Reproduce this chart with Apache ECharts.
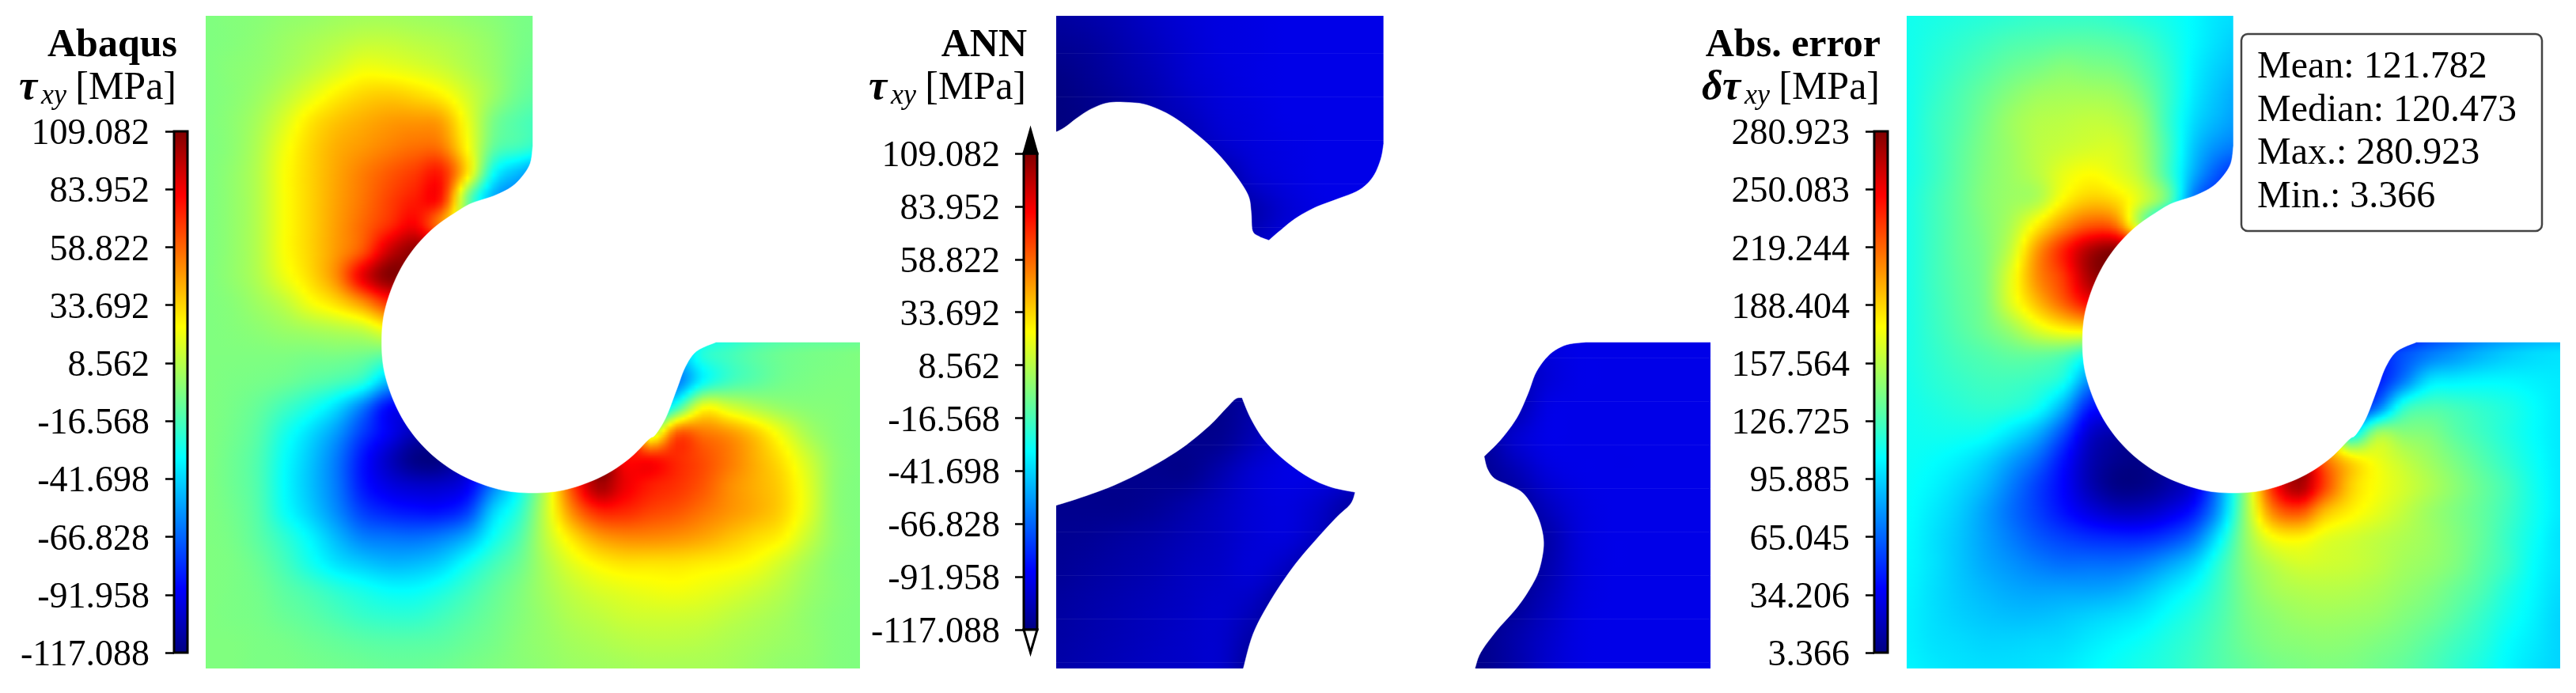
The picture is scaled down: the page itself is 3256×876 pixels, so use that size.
<!DOCTYPE html>
<html><head><meta charset="utf-8">
<style>html,body{margin:0;padding:0;background:#fff}#c{width:3256px;height:876px}</style>
<script src="https://cdn.jsdelivr.net/npm/echarts@6/dist/echarts.min.js"></script>
</head><body><div id="c"></div>
<script>
const _ = null;
const abaqusTicks = [109.082,83.952,58.822,33.692,8.562,-16.568,-41.698,-66.828,-91.958,-117.088];
const errorTicks = [280.923,250.083,219.244,188.404,157.564,126.725,95.885,65.045,34.206,3.366];
const statsLines = ['Mean: 121.782','Median: 120.473','Max.: 280.923','Min.: 3.366'];
// rows run from y=100 (top) to y=0, columns from x=0 to x=100, plate coordinates
const abaqusField = [
[-4,-3,-2,0,1,3,4,4,3,2,0,-2,-5,-6],
[-4,-3,-1,2,5,8,11,11,9,7,4,0,-5,-7],
[-4,-2,0,4,9,15,21,20,17,13,7,1,-6,-9],
[-4,-2,2,9,18,27,33,35,32,26,14,2,-8,-12],
[-4,-1,5,16,29,37,42,46,47,44,20,-5,-14,-18],
[-4,-1,7,21,33,42,47,52,56,54,24,-10,-18,-25],
[-4,0,8,23,34,44,53,61,68,74,30,-30,-48,-60],
[-4,0,8,23,34,45,55,66,75,75,-5,-50,-60,-65],
[-4,0,8,23,34,46,58,71,82,50,10,-40],
[-4,0,8,23,34,47,63,92,105,100],
[-4,0,7,20,32,50,85,107,100],
[-4,-2,3,10,22,32,48,70,70],
[-4,-3,-1,2,5,8,12,24,25,_,_,_,_,_,_,_,_,_,-45,-25,-18,-12,-8,-6,-5,-4],
[-4,-4,-4,-4,-5,-5,-7,-12,-14,_,_,_,_,_,_,_,_,_,-45,-25,-18,-12,-8,-6,-5,-4],
[-4,-5,-6,-8,-12,-16,-24,-48,-50,_,_,_,_,_,_,_,_,-70,-62,-32,-18,-12,-7,-5,-4,-4],
[-4,-6,-10,-18,-27,-40,-62,-88,-90,_,_,_,_,_,_,_,_,-60,-20,22,15,7,1,-2,-3,-4],
[-4,-7,-13,-27,-40,-55,-76,-92,-105,-105,_,_,_,_,_,_,60,10,60,55,48,36,20,5,-2,-4],
[-4,-8,-15,-31,-45,-62,-85,-102,-115,-115,-100,-70,-30,10,65,90,80,78,72,64,54,42,30,14,0,-4],
[-4,-8,-15,-32,-46,-62,-84,-95,-100,-100,-92,-60,-30,10,65,100,85,75,70,62,50,42,34,18,0,-4],
[-4,-7,-14,-30,-43,-58,-75,-82,-85,-85,-75,-42,-22,12,50,72,72,66,62,55,48,42,34,18,0,-4],
[-4,-6,-12,-22,-34,-48,-60,-63,-64,-60,-50,-30,-14,10,30,45,50,50,48,44,38,32,26,12,0,-4],
[-4,-5,-9,-17,-28,-38,-44,-48,-47,-42,-30,-18,-8,6,18,26,30,30,30,28,26,22,14,5,-2,-4],
[-4,-5,-7,-12,-17,-23,-28,-32,-32,-27,-19,-11,-4,4,11,16,19,21,22,20,17,13,8,2,-2,-4],
[-4,-5,-6,-9,-12,-16,-20,-22,-22,-18,-13,-8,-3,2,7,10,13,14,14,13,10,7,4,0,-3,-4],
[-4,-4,-5,-6,-8,-10,-12,-13,-13,-12,-9,-6,-2,1,4,6,8,9,9,8,6,4,2,0,-3,-4],
[-4,-4,-5,-5,-6,-7,-8,-9,-9,-8,-6,-4,-2,0,2,3,4,5,5,5,4,2,0,-1,-3,-4]
];
const annField = [
[-110,-108,-105,-101,-98,-96,-95,-94,-94,-94,-94],
[-113,-111,-107,-103,-99,-96,-95,-94,-94,-94,-94],
[-116,-113,-109,-105,-100,-97,-95,-94,-94,-94,-94],
[-117,-115,-112,-107,-103,-98,-96,-94,-94,-94,-94],
[-117,-116,-114,-110,-107,-101,-97,-95,-94,-94,-94],
[-117,-116,-115,-113,-110,-110,-100,-96,-94,-94,-94],
[-117,-116,-115,-114,-113,-112,-107,-99,-95,-94,-94],
[-117,-116,-115,-114,-113,-108,-103,-96,-94,-94,-94],
[-116,-116,-115,-114,-112,-108,-103,-96,-94,-94,-94,-94,-94,-94,-94,-96,-94,-94,-94,-94,-94],
[-116,-116,-115,-114,-112,-108,-103,-96,-94,-94,-94,-94,-94,-94,-94,-96,-94,-94,-94,-94,-94],
[-116,-116,-115,-114,-112,-110,-105,-100,-98,-98,-98,-98,-98,-98,-100,-96,-94,-94,-94,-94,-94],
[-115,-115,-115,-114,-114,-112,-108,-102,-100,-100,-100,-102,-104,-106,-106,-98,-94,-94,-94,-94,-94],
[-115,-115,-115,-114,-114,-114,-108,-102,-100,-100,-100,-102,-104,-106,-106,-95,-94,-94,-94,-94,-94],
[-115,-115,-114,-114,-114,-113,-105,-98,-96,-96,-96,-100,-104,-110,-100,-94,-94,-94,-94,-94,-94],
[-115,-114,-114,-114,-114,-107,-99,-95,-95,-97,-100,-104,-108,-112,-106,-97,-94,-94,-94,-94,-94],
[-114,-114,-114,-112,-108,-103,-98,-96,-100,-108,-108,-110,-112,-112,-112,-103,-96,-94,-94,-94,-94],
[-113,-112,-110,-108,-105,-102,-98,-97,-103,-112,-112,-113,-114,-114,-114,-108,-97,-94,-94,-94,-94],
[-112,-110,-108,-106,-103,-101,-98,-103,-112,-113,-113,-113,-114,-114,-114,-107,-97,-94,-94,-94,-94],
[-110,-108,-106,-104,-102,-100,-103,-112,-113,-113,-113,-113,-114,-114,-112,-104,-96,-94,-94,-94,-94],
[-109,-107,-105,-103,-101,-100,-108,-114,-114,-114,-114,-114,-114,-114,-108,-101,-95,-94,-94,-94,-94],
[-108,-106,-104,-102,-101,-100,-112,-115,-115,-115,-115,-115,-115,-114,-108,-100,-95,-94,-94,-94,-94]
];
const errorField = [
[112,114,116,118,120,122,122,122,120,116,112,106,100,98],
[112,116,120,124,128,130,132,132,130,125,116,106,98,92],
[112,118,124,130,136,140,144,142,140,132,120,104,94,88],
[112,120,128,136,144,150,152,152,150,140,122,102,90,82],
[112,122,130,140,150,156,158,160,158,148,122,98,86,78],
[113,122,132,142,150,158,162,165,165,152,125,92,76,70],
[113,122,133,143,150,158,170,176,170,156,125,85,60,48],
[114,124,134,144,150,155,178,190,185,165,135,70,50,42],
[114,124,134,143,155,180,205,222,215,150,100,60],
[114,124,134,142,162,205,238,268,278,260],
[114,124,133,142,170,208,232,270,280],
[114,123,132,141,168,195,220,245,245],
[114,122,130,138,150,168,180,185,185,_,_,_,_,_,_,_,_,_,50,60,72,80,88,94,98,100],
[114,120,126,130,134,135,130,112,100,_,_,_,_,_,_,_,_,_,50,60,72,80,88,94,98,100],
[113,118,122,125,125,122,112,75,65,_,_,_,_,_,_,_,_,40,45,72,100,104,106,106,104,102],
[112,115,118,120,118,110,85,45,40,_,_,_,_,_,_,_,_,40,70,118,128,125,120,115,108,102],
[111,112,112,110,100,85,58,25,15,12,_,_,_,_,_,_,150,105,150,145,142,132,124,116,108,102],
[110,108,104,96,82,66,42,18,8,6,15,40,90,150,220,245,215,185,172,160,150,140,130,120,110,102],
[109,105,98,88,72,55,38,18,6,6,14,30,80,150,235,270,228,190,175,165,155,145,135,125,112,102],
[108,102,94,82,68,55,42,30,22,22,30,45,85,150,210,225,195,180,170,160,150,142,134,124,112,102],
[107,100,92,82,72,62,55,50,48,48,55,70,105,148,175,180,170,165,160,155,150,143,134,122,110,100],
[106,100,92,84,78,72,68,68,68,72,82,95,120,145,158,165,164,162,158,152,148,142,132,122,108,100],
[105,99,93,88,84,82,82,82,84,90,100,110,125,142,152,156,157,156,153,148,143,136,128,116,106,98],
[104,99,95,92,90,90,92,95,98,102,110,118,128,140,146,150,151,150,148,143,138,131,122,112,104,96],
[104,100,98,96,96,97,98,102,106,110,116,122,130,138,143,145,146,145,142,138,132,125,118,108,102,96],
[105,102,100,99,99,100,102,106,110,114,118,124,130,135,139,141,142,141,138,134,128,121,114,106,100,96]
];
// outline of the removed region, plate coordinates; a third item marks a sharp corner
const plateVoid = [[50,100,1],[50,80.1,1],[49.6,77.4],[48.3,75.3],[46.6,73.7],[44,72.4],[40.7,71.3],[38.4,70],[35.1,67.7],[32.3,64.9],[30,61.6],[28.3,57.9],[27.2,54],[26.9,50],[27.2,46],[28.3,42.1],[30,38.4],[32.3,35.1],[35.1,32.3],[38.4,30],[42.1,28.3],[46,27.2],[50,26.9],[54,27.2],[57.9,28.3],[61.6,30],[64.9,32.3],[67.7,35.1],[68.7,35.8],[70.3,38.4],[72,42.8],[73.3,46.2],[75,48.6],[78,50,1],[100,50,1],[100,100,1]];
const annVoid = [[0,82.2,1],[1.3,82.9],[3.4,84.5],[5.5,85.8],[8.1,86.7],[11.5,86.7],[14,86.3],[17.4,84.8],[20.8,82.4],[24.2,79.4],[27.1,76],[29.3,72.6],[29.8,69.9],[30,67.1],[31,66.2],[32.5,65.6,1],[34,66.9],[36.5,68.9],[39.5,70.6],[42.9,71.9],[46.3,73.3],[48.4,75.3],[49.6,78],[50.05,80.4,1],[50.05,100,1],[100,100,1],[100,50,1],[81,50,1],[78,49.6],[75.5,48.2],[73.4,45.5],[72.1,42.1],[70.4,38.4],[67.9,35],[65.4,32.5,1],[65.9,30.6],[67,29.1],[69.1,28.1],[71.3,26.9],[73,24.5],[74.1,21.8],[74.5,18.8],[73.8,15.1],[72.5,12.4],[70.4,9.3],[67.4,5.9],[64.9,2.5],[64,0,1],[28.6,0,1],[30.1,5.3],[32.7,10.3],[36.1,15.4],[39.5,19.5],[42.9,23.2],[45,25.2],[45.7,27,1],[42,27.8],[38.6,29.3],[34.8,32],[31.8,35],[29.7,38.4],[28.4,41.5,1],[27.4,41.3],[25.9,39.8],[23.3,37.1],[19.1,33.7],[14,30.6],[8.9,28.1],[3.8,26.2],[0,25,1]];

const FONT = 'Liberation Serif';
const jetStops = [[0,[0,0,127]],[.125,[0,0,255]],[.375,[0,255,255]],[.625,[255,255,0]],[.875,[255,0,0]],[1,[127,0,0]]];
function jet(t){
  t = Math.max(0,Math.min(1,t));
  for(let i=1;i<jetStops.length;i++){
    if(t<=jetStops[i][0]){
      const a=jetStops[i-1],b=jetStops[i],k=(t-a[0])/(b[0]-a[0]);
      return 'rgb('+a[1].map((v,j)=>Math.round(v+(b[1][j]-v)*k)).join(',')+')';
    }
  }
  return 'rgb(127,0,0)';
}
const cr=(a,b,c,d,t)=>0.5*(2*b+(c-a)*t+(2*a-5*b+4*c-d)*t*t+(3*b-a-3*c+d)*t*t*t);
function complete(rows){
  const n=Math.max(...rows.map(r=>r.length));
  return rows.map(r=>{const o=[];let last=r[0];for(let i=0;i<n;i++){const v=r[i];if(v!=null)last=v;o.push(last);}return o;});
}
function fieldSeries(idx,field,lo,hi){
  const rows=complete(field),nr=rows.length,nc=rows[0].length;
  const data=[];
  for(let r=0;r<nr-1;r++)data.push([0,100-r*100/(nr-1),100-(r+1)*100/(nr-1),r]);
  return {type:'custom',xAxisIndex:idx,yAxisIndex:idx,silent:true,clip:true,z:1,data,
    encode:{x:0,y:1},
    renderItem(p,api){
      const r=api.value(3);
      const p0=api.coord([0,api.value(1)]),p1=api.coord([100,api.value(2)]);
      const n=Math.max(1,Math.ceil((p1[1]-p0[1])/2)),h=(p1[1]-p0[1])/n;
      const R=i=>rows[Math.max(0,Math.min(nr-1,i))];
      const children=[];
      for(let j=0;j<n;j++){
        const s=(j+.5)/n,col=[];
        for(let c=0;c<nc;c++)col.push(cr(R(r-1)[c],R(r)[c],R(r+1)[c],R(r+2)[c],s));
        const stops=[];
        for(let c=0;c<nc-1;c++){
          const a=col[Math.max(0,c-1)],b=col[c],d=col[c+1],e=col[Math.min(nc-1,c+2)];
          for(let q=0;q<4;q++){
            const v=cr(a,b,d,e,q/4);
            stops.push({offset:(c+q/4)/(nc-1),color:jet((v-lo)/(hi-lo))});
          }
        }
        stops.push({offset:1,color:jet((col[nc-1]-lo)/(hi-lo))});
        children.push({type:'rect',shape:{x:p0[0],y:p0[1]+j*h,width:p1[0]-p0[0],height:h+.7},
          style:{fill:new echarts.graphic.LinearGradient(0,0,1,0,stops)}});
      }
      return {type:'group',children};
    }};
}
function roundOutline(pts){
  const out=[],n=pts.length;
  for(let i=0;i<n;i++){
    const p1=pts[i],p2=pts[(i+1)%n];
    const p0=p1[2]?p1:pts[(i-1+n)%n],p3=p2[2]?p2:pts[(i+2)%n];
    out.push(p1);
    if(!(p1[2]&&p2[2])){
      for(let q=1;q<6;q++){
        const t=q/6;
        out.push([cr(p0[0],p1[0],p2[0],p3[0],t),cr(p0[1],p1[1],p2[1],p3[1],t)]);
      }
    }
  }
  return out;
}
function voidSeries(idx,outline){
  const shape=roundOutline(outline);
  return {type:'custom',xAxisIndex:idx,yAxisIndex:idx,silent:true,clip:false,z:2,data:[[0,0]],encode:{x:0,y:1},
    renderItem(p,api){
      return {type:'polygon',shape:{points:shape.map(q=>api.coord([q[0],q[1]]))},style:{fill:'#fff',stroke:'#fff',lineWidth:.5}};
    }};
}
function barSeries(idx,lo,hi,arrows){
  const gstops=jetStops.map(s=>({offset:1-s[0],color:'rgb('+s[1].join(',')+')'})).reverse();
  return {type:'custom',xAxisIndex:idx,yAxisIndex:idx,silent:true,clip:false,z:3,data:[[0,lo,hi]],encode:{x:0,y:1},
    renderItem(p,api){
      const a=api.coord([0,hi]),b=api.coord([1,lo]);
      const ch=[{type:'rect',shape:{x:a[0],y:a[1],width:b[0]-a[0],height:b[1]-a[1]},
        style:{fill:new echarts.graphic.LinearGradient(0,0,0,1,gstops),stroke:'#000',lineWidth:3}}];
      if(arrows){
        const mx=(a[0]+b[0])/2;
        ch.push({type:'polygon',shape:{points:[[a[0],a[1]],[mx,a[1]-30],[b[0],a[1]]]},style:{fill:'#000',stroke:'#000',lineWidth:3,lineJoin:'miter'}});
        ch.push({type:'polygon',shape:{points:[[a[0],b[1]],[mx,b[1]+29],[b[0],b[1]]]},style:{fill:'#fff',stroke:'#000',lineWidth:3}});
      }
      return {type:'group',children:ch};
    }};
}
const fieldGrids=[[260,20,827,825],[1335,20,827,825],[2410,20,826,825]];
const barGrids=[[220,166,17,659],[1294,194,17,602],[2369,166,17,659]];
const labelMargin=[31,30,31];
const ranges=[[-117.088,109.082,abaqusTicks],[-117.088,109.082,abaqusTicks],[3.366,280.923,errorTicks]];
const grid=[],xAxis=[],yAxis=[],series=[];
fieldGrids.forEach(g=>{
  grid.push({left:g[0],top:g[1],width:g[2],height:g[3]});
  const i=xAxis.length;
  xAxis.push({type:'value',gridIndex:i,min:0,max:100,show:false});
  yAxis.push({type:'value',gridIndex:i,min:0,max:100,show:false});
});
barGrids.forEach((g,k)=>{
  grid.push({left:g[0],top:g[1],width:g[2],height:g[3]});
  const i=xAxis.length,[lo,hi,tk]=ranges[k];
  xAxis.push({type:'value',gridIndex:i,min:0,max:1,show:false});
  yAxis.push({type:'value',gridIndex:i,min:lo,max:hi,position:'left',splitLine:{show:false},
    axisLine:{show:false},
    axisTick:{show:true,length:11,customValues:tk,lineStyle:{color:'#000',width:2.5}},
    axisLabel:{show:true,customValues:tk,margin:labelMargin[k],hideOverlap:false,
      formatter:v=>'{a|'+v.toFixed(3)+'}',
      rich:{a:{color:'#000',fontFamily:FONT,fontSize:46,padding:[8,0,0,0]}}}});
});
series.push(fieldSeries(0,abaqusField,-117.088,109.082),voidSeries(0,plateVoid));
series.push(fieldSeries(1,annField,-117.088,109.082),voidSeries(1,annVoid));
series.push(fieldSeries(2,errorField,3.366,280.923),voidSeries(2,plateVoid));
series.push(barSeries(3,-117.088,109.082,false),barSeries(4,-117.088,109.082,true),barSeries(5,3.366,280.923,false));

const T=(text,x,y,o)=>Object.assign({type:'text',x,y,z:10,style:Object.assign({text,fontFamily:FONT,fontSize:47,fill:'#000',align:'right',verticalAlign:'middle'},o||{})},{});
const graphic=[];
[[0,'Abaqus',0],[1074,'ANN',0],[2153,'Abs. error',1]].forEach(([dx,title,delta])=>{
  graphic.push(T(title,224+dx,58,{fontWeight:'bold',fontSize:50}));
  graphic.push(T('[MPa]',223+dx,112,{fontSize:50}));
  graphic.push(T('xy',84+dx,122,{fontStyle:'italic',fontSize:36}));
  graphic.push(T(delta?'δτ':'τ',47+dx,112,{fontStyle:'italic',fontWeight:'bold',fontSize:52}));
});
graphic.push({type:'rect',z:9,shape:{x:2833,y:43,width:380,height:249,r:8},style:{fill:'#fff',stroke:'#444',lineWidth:2.5}});
graphic.push({type:'text',z:10,x:2853,y:58,style:{text:statsLines.join('\n'),fontFamily:FONT,fontSize:48,lineHeight:54.6,fill:'#000',align:'left',verticalAlign:'top'}});

const chart=echarts.init(document.getElementById('c'),null,{renderer:'canvas',width:3256,height:876});
chart.setOption({animation:false,backgroundColor:'#fff',grid,xAxis,yAxis,series,graphic});
</script></body></html>
